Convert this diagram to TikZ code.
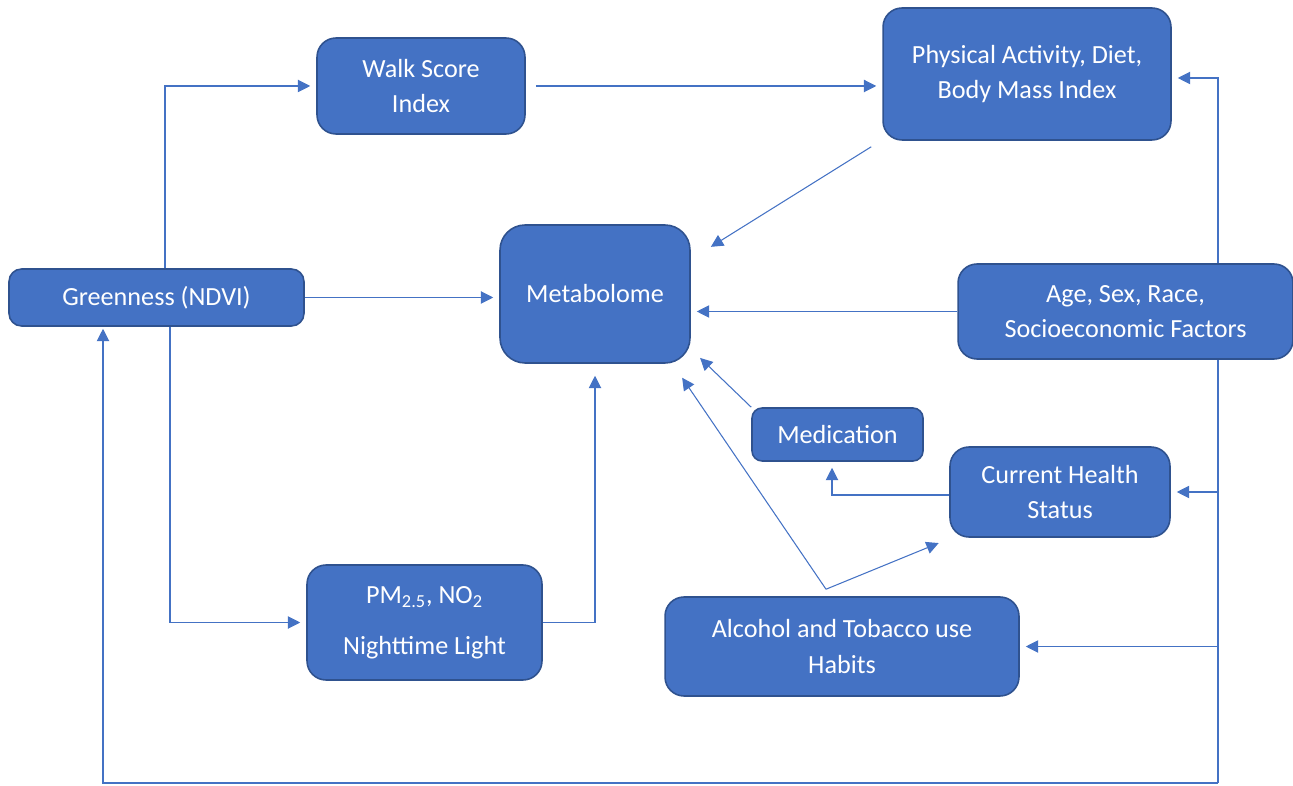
\documentclass[tikz,border=0pt]{standalone}
\usepackage{fontspec}
\setmainfont{Carlito}
\usetikzlibrary{arrows.meta}
\definecolor{boxblue}{HTML}{4472C4}
\definecolor{boxedge}{HTML}{2F528F}

\begin{document}
\begin{tikzpicture}[x=0.02cm,y=-0.02cm,>={Triangle[length=7pt,width=7pt]},
  box/.style={draw=boxedge,line width=0.9pt,fill=boxblue,text=white,rounded corners=0.38cm,
    align=center,inner sep=0pt,font=\fontsize{14.9}{20}\selectfont},
  conn/.style={->,draw=boxblue,line width=0.6pt,shorten >=0.12cm}]
\useasboundingbox (0,0) rectangle (1293,786);
% boxes
\node[box,minimum width=4.16cm,minimum height=1.92cm] (walk) at (421,86) {Walk Score\\Index};
\node[box,minimum width=5.76cm,minimum height=2.64cm] (pa) at (1027,74) {Physical Activity, Diet,\\Body Mass Index};
\node[box,minimum width=5.9cm,minimum height=1.14cm,rounded corners=0.25cm] (green) at (156.5,297.5) {Greenness (NDVI)};
\node[box,minimum width=3.8cm,minimum height=2.76cm,rounded corners=0.5cm] (meta) at (595,294) {Metabolome};
\node[box,minimum width=3.42cm,minimum height=1.06cm,rounded corners=0.2cm] (med) at (837.5,434.5) {Medication};
\node[box,minimum width=4.4cm,minimum height=1.8cm] (chs) at (1060,492) {Current Health\\Status};
\node[box,minimum width=4.7cm,minimum height=2.3cm] (pm) at (424.5,622.5) {PM\textsubscript{2.5}, NO\textsubscript{2}\\[9pt]Nighttime Light};
\node[box,minimum width=7.08cm,minimum height=1.98cm] (alc) at (842,646.5) {Alcohol and Tobacco use\\Habits};
\coordinate (fork) at ([shift={(-16,-7)}]alc.north);
\coordinate (tb) at (1218,783);
% connectors
\draw[conn] ([xshift=0.17cm]green.north) |- (walk.west);
\draw[conn,shorten <=0.2cm] (walk.east) -- (walk.east -| pa.west);
\draw[conn] ([shift={(-11,6)}]pa.south west) -- ([shift={(15,-44)}]meta.east);
\draw[conn] (green.east) -- (green.east -| meta.west);
\draw[conn] (med.north west) -- ([shift={(5,-10)}]meta.south east);
\draw[conn] ([yshift=-0.06cm]chs.west) -| ([xshift=-0.11cm]med.south);
\draw[conn] (fork) -- ([shift={(-12,9)}]meta.south east);
\draw[conn] (fork) -- ([shift={(-5,3)}]chs.south west);
\draw[conn] ([xshift=0.27cm]green.south) |- (pm.west);
\draw[conn,shorten >=0.24cm] (pm.east) -| (meta.south);
\draw[conn] (tb) |- ([yshift=-0.08cm]pa.east);
\draw[conn] (tb) |- (chs.east);
\draw[conn] (tb) |- (alc.east);
\draw[conn,shorten >=0.04cm] (tb) -| ([xshift=-1.07cm]green.south);
% age box last, over the trunk line
\node[box,minimum width=6.7cm,minimum height=1.9cm] (age) at (1125.5,311.5) {Age, Sex, Race,\\Socioeconomic Factors};
\draw[conn] (age.west) -- (age.west -| meta.east);
\end{tikzpicture}
\end{document}
